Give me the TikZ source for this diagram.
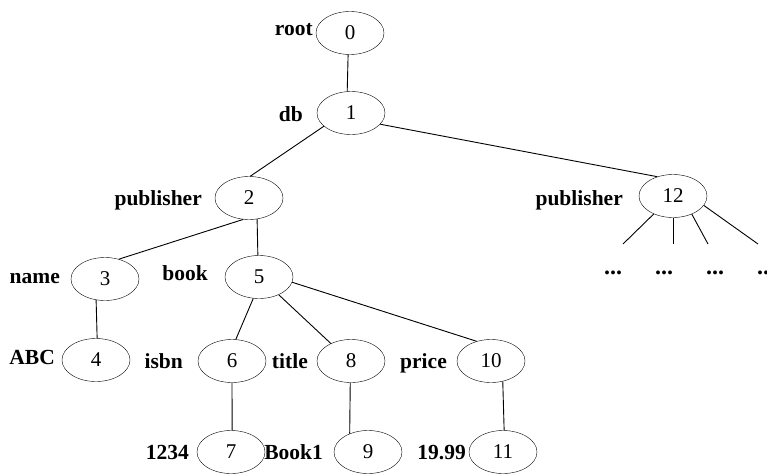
\documentclass[tikz,border=0pt]{standalone}
\usepackage{fontspec}
\setmainfont{Liberation Serif}
\usetikzlibrary{shapes.geometric}
\begin{document}
\begin{tikzpicture}[x=1pt,y=-1pt,
  vtx/.style={draw,ellipse,minimum width=68pt,minimum height=43pt,inner sep=0pt,font=\fontsize{21}{24}\selectfont},
  lbl/.style={anchor=base east,inner sep=0pt,font=\fontsize{21.5}{24}\selectfont\bfseries},
  dots/.style={anchor=base,inner sep=0pt,font=\fontsize{24}{26}\selectfont\bfseries},
  edge/.style={draw,line width=0.9pt}]
\useasboundingbox (0,0) rectangle (767,474);
% nodes
\node[vtx] (n0) at (350,33) {0};
\node[vtx] (n1) at (351,113) {1};
\node[vtx] (n2) at (249,198) {2};
\node[vtx] (n12) at (673,196) {12};
\node[vtx] (n3) at (105,279) {3};
\node[vtx] (n5) at (259,277) {5};
\node[vtx] (n4) at (96,360) {4};
\node[vtx] (n6) at (232,361) {6};
\node[vtx] (n8) at (351,361) {8};
\node[vtx] (n10) at (491,361) {10};
\node[vtx] (n7) at (231,452) {7};
\node[vtx] (n9) at (368,452) {9};
\node[vtx] (n11) at (503,452) {11};
% labels
\node[lbl] (lroot) at (313,35) {root};
\node[lbl] (ldb) at (303,121) {db};
\node[lbl] (lpub1) at (202,205) {publisher};
\node[lbl] (lpub2) at (623,205) {publisher};
\node[lbl] (lname) at (60,283) {name};
\node[lbl] (lbook) at (208,280) {book};
\node[lbl] (labc) at (55,364) {ABC};
\node[lbl] (lisbn) at (183,368) {isbn};
\node[lbl] (ltitle) at (308,368) {title};
\node[lbl] (lprice) at (447,368) {price};
\node[lbl] (l1234) at (189,459) {1234};
\node[lbl] (lbook1) at (323,459) {Book1};
\node[lbl] (l1999) at (466,459) {19.99};
% dots
\node[dots] (e1) at (613,274) {...};
\node[dots] (e2) at (664,274) {...};
\node[dots] (e3) at (715,274) {...};
\node[dots] (e4) at (766,274) {...};
\coordinate (c1) at (623,244);
\coordinate (c2) at (673,244);
\coordinate (c3) at (708,244);
\coordinate (c4) at (758,244);
% edges
\draw[edge] (n0.265) -- (n1.100);
\draw[edge] (n1.206) -- (n2.87);
\draw[edge] (n1.339) -- (n12.129);
\draw[edge] (n2.255) -- (n3.55);
\draw[edge] (n2.291) -- (n5.93);
\draw[edge] (n3.247) -- (n4.87);
\draw[edge] (n5.255) -- (n6.80);
\draw[edge] (n5.318) -- (n8.139);
\draw[edge] (n5.351) -- (n10.126);
\draw[edge] (n6.270) -- (n7.87);
\draw[edge] (n8.268) -- (n9.135);
\draw[edge] (n10.300) -- (n11.87);
\draw[edge] (n12.223) -- (c1);
\draw[edge] (n12.270) -- (c2);
\draw[edge] (n12.316) -- (c3);
\draw[edge] (n12.343) -- (c4);
\end{tikzpicture}
\end{document}
